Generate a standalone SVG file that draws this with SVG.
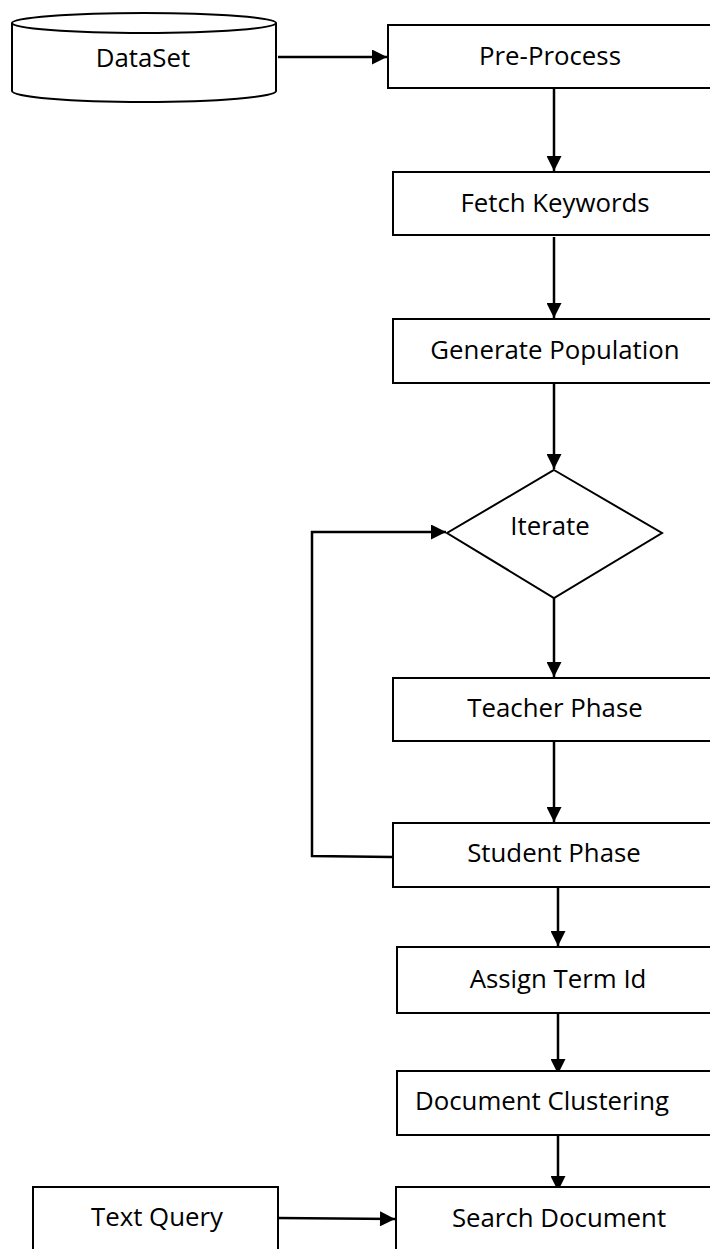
<svg xmlns="http://www.w3.org/2000/svg" width="710" height="1249" viewBox="0 0 710 1249">
  <defs>
    <marker id="arr" viewBox="0 0 10 10" refX="10" refY="5" markerWidth="6.5" markerHeight="6" markerUnits="strokeWidth" orient="auto">
      <path d="M0,0 L10,5 L0,10 Z" fill="#000"/>
    </marker>
    <style>
      .box { fill: #fff; stroke: #000; stroke-width: 2; }
      .lbl { font-family: "Open Sans", "Liberation Sans", sans-serif; font-size: 25.8px; fill: #000; text-anchor: middle; }
      .con { fill: none; stroke: #000; stroke-width: 2.5; }
    </style>
  </defs>
  <rect width="710" height="1249" fill="#fff"/>

  <g id="connectors">
    <line class="con" x1="278" y1="57" x2="387" y2="57" marker-end="url(#arr)"/>
    <line class="con" x1="554" y1="89" x2="554" y2="171" marker-end="url(#arr)"/>
    <line class="con" x1="554" y1="237" x2="554" y2="318" marker-end="url(#arr)"/>
    <line class="con" x1="554" y1="384" x2="554" y2="469" marker-end="url(#arr)"/>
    <line class="con" x1="554" y1="598" x2="554" y2="677" marker-end="url(#arr)"/>
    <line class="con" x1="554" y1="742" x2="554" y2="822" marker-end="url(#arr)"/>
    <polyline class="con" points="392,857 312,856 312,532 446,532" marker-end="url(#arr)"/>
    <line class="con" x1="558" y1="888" x2="558" y2="946" marker-end="url(#arr)"/>
    <line class="con" x1="558" y1="1007" x2="558" y2="1074" marker-end="url(#arr)"/>
    <line class="con" x1="558" y1="1136" x2="558" y2="1191" marker-end="url(#arr)"/>
    <line class="con" x1="278" y1="1218" x2="395" y2="1219" marker-end="url(#arr)"/>
  </g>

  <g id="dataset">
    <path class="box" d="M12,23 L12,91 A132,11 0 0 0 276,91 L276,23 A132,10 0 0 0 12,23 Z"/>
    <path fill="none" stroke="#000" stroke-width="2" d="M12,23 A132,10 0 0 0 276,23"/>
    <text class="lbl" x="143" y="67">DataSet</text>
  </g>

  <g id="preprocess">
    <rect class="box" x="388" y="25" width="340" height="63"/>
    <text class="lbl" x="550" y="65">Pre-Process</text>
  </g>

  <g id="fetch">
    <rect class="box" x="393" y="172" width="340" height="63"/>
    <text class="lbl" x="555" y="212">Fetch Keywords</text>
  </g>

  <g id="generate">
    <rect class="box" x="393" y="319" width="340" height="64"/>
    <text class="lbl" x="555" y="359">Generate Population</text>
  </g>

  <g id="iterate">
    <polygon class="box" points="554,470 662,533 554,598 447,533"/>
    <text class="lbl" x="550" y="535">Iterate</text>
  </g>

  <g id="teacher">
    <rect class="box" x="393" y="678" width="340" height="63"/>
    <text class="lbl" x="555" y="717">Teacher Phase</text>
  </g>

  <g id="student">
    <rect class="box" x="393" y="823" width="340" height="64"/>
    <text class="lbl" x="554" y="862">Student Phase</text>
  </g>

  <g id="assign">
    <rect class="box" x="397" y="947" width="340" height="66"/>
    <text class="lbl" x="558" y="988">Assign Term Id</text>
  </g>

  <g id="clustering">
    <rect class="box" x="397" y="1071" width="340" height="64"/>
    <text class="lbl" x="542" y="1110">Document Clustering</text>
  </g>

  <g id="textquery">
    <rect class="box" x="33" y="1187" width="245" height="80"/>
    <text class="lbl" x="157" y="1226">Text Query</text>
  </g>

  <g id="search">
    <rect class="box" x="396" y="1187" width="340" height="80"/>
    <text class="lbl" x="559" y="1227">Search Document</text>
  </g>
</svg>
